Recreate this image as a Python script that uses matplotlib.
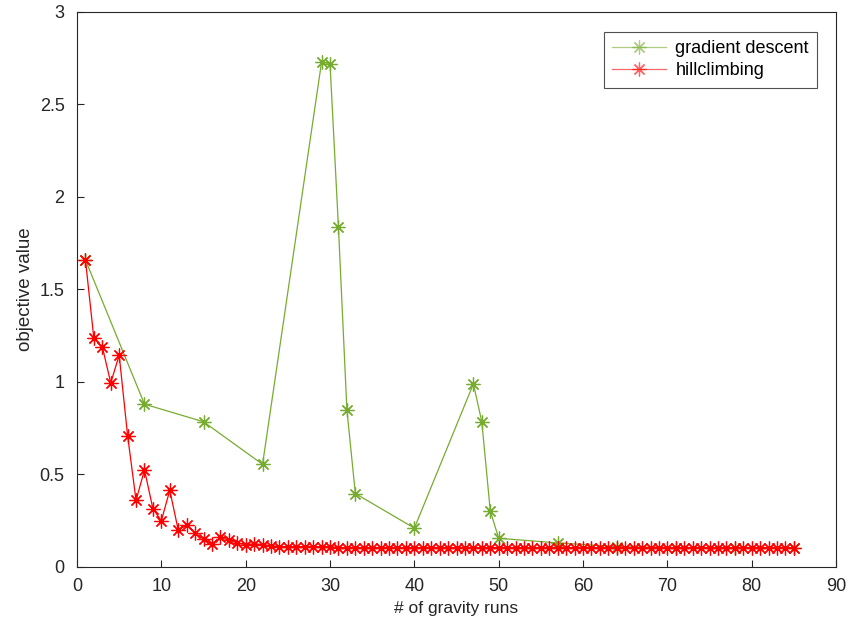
import numpy as np
import matplotlib
matplotlib.use("Agg")
import matplotlib.pyplot as plt
from matplotlib.ticker import FormatStrFormatter

plt.rcParams['font.family'] = ['Liberation Sans', 'DejaVu Sans']

# gradient descent (sampled every 7 runs, denser around the peaks)
gd_x = [1, 8, 15, 22, 29, 30, 31, 32, 33, 40, 47, 48, 49, 50, 57, 64, 71, 78, 85]
gd_y = [1.66, 0.88, 0.785, 0.555, 2.73, 2.72, 1.835, 0.85, 0.397, 0.21,
        0.99, 0.784, 0.303, 0.155, 0.13, 0.11, 0.105, 0.105, 0.105]

# hillclimbing, one value per run
hc_x = list(range(1, 86))
hc_y = [1.66, 1.235, 1.19, 0.995, 1.145, 0.71, 0.36, 0.525, 0.315, 0.25,
        0.415, 0.20, 0.225, 0.185, 0.15, 0.125, 0.16, 0.145, 0.13, 0.12,
        0.125, 0.12, 0.115, 0.11, 0.11, 0.11, 0.11, 0.11, 0.11, 0.11] + [0.105] * 55

green = '#77AC30'
red = '#FF0000'

fig = plt.figure(figsize=(8.5, 6.29), dpi=100)
ax = fig.add_axes([0.0906, 0.0986, 0.893, 0.8824])

ax.plot(gd_x, gd_y, color=green, lw=0.9, marker=(8, 2, 0), ms=10, mew=0.9,
        label='gradient descent')
ax.plot(hc_x, hc_y, color=red, lw=0.9, marker=(8, 2, 0), ms=10, mew=0.9,
        label='hillclimbing')

ax.set_xlim(0, 90)
ax.set_ylim(0, 3)
ax.set_xticks(np.arange(0, 91, 10))
ax.set_yticks(np.arange(0, 3.01, 0.5))
ax.yaxis.set_major_formatter(FormatStrFormatter('%g'))
ax.tick_params(direction='in', length=5, width=0.8, colors='#262626',
               labelsize=13, top=False, right=False)
ax.tick_params(axis='x', pad=8)
ax.tick_params(axis='y', pad=9)
for s in ax.spines.values():
    s.set_color('#262626')
    s.set_linewidth(0.8)

ax.set_xlabel('# of gravity runs', fontsize=12.5, color='#262626', labelpad=4)
ax.set_ylabel('objective value', fontsize=13.5, color='#262626', labelpad=4)

leg = ax.legend(loc='upper right', bbox_to_anchor=(0.975, 0.964), borderaxespad=0,
                fontsize=13, frameon=True, fancybox=False, borderpad=0.45,
                handlelength=3.0, labelspacing=0.3, handletextpad=0.5)
leg.get_frame().set_edgecolor('#262626')
leg.get_frame().set_linewidth(0.8)
for h in leg.get_lines():
    h.set_alpha(0.6)

fig.savefig('out.png', dpi=100)
